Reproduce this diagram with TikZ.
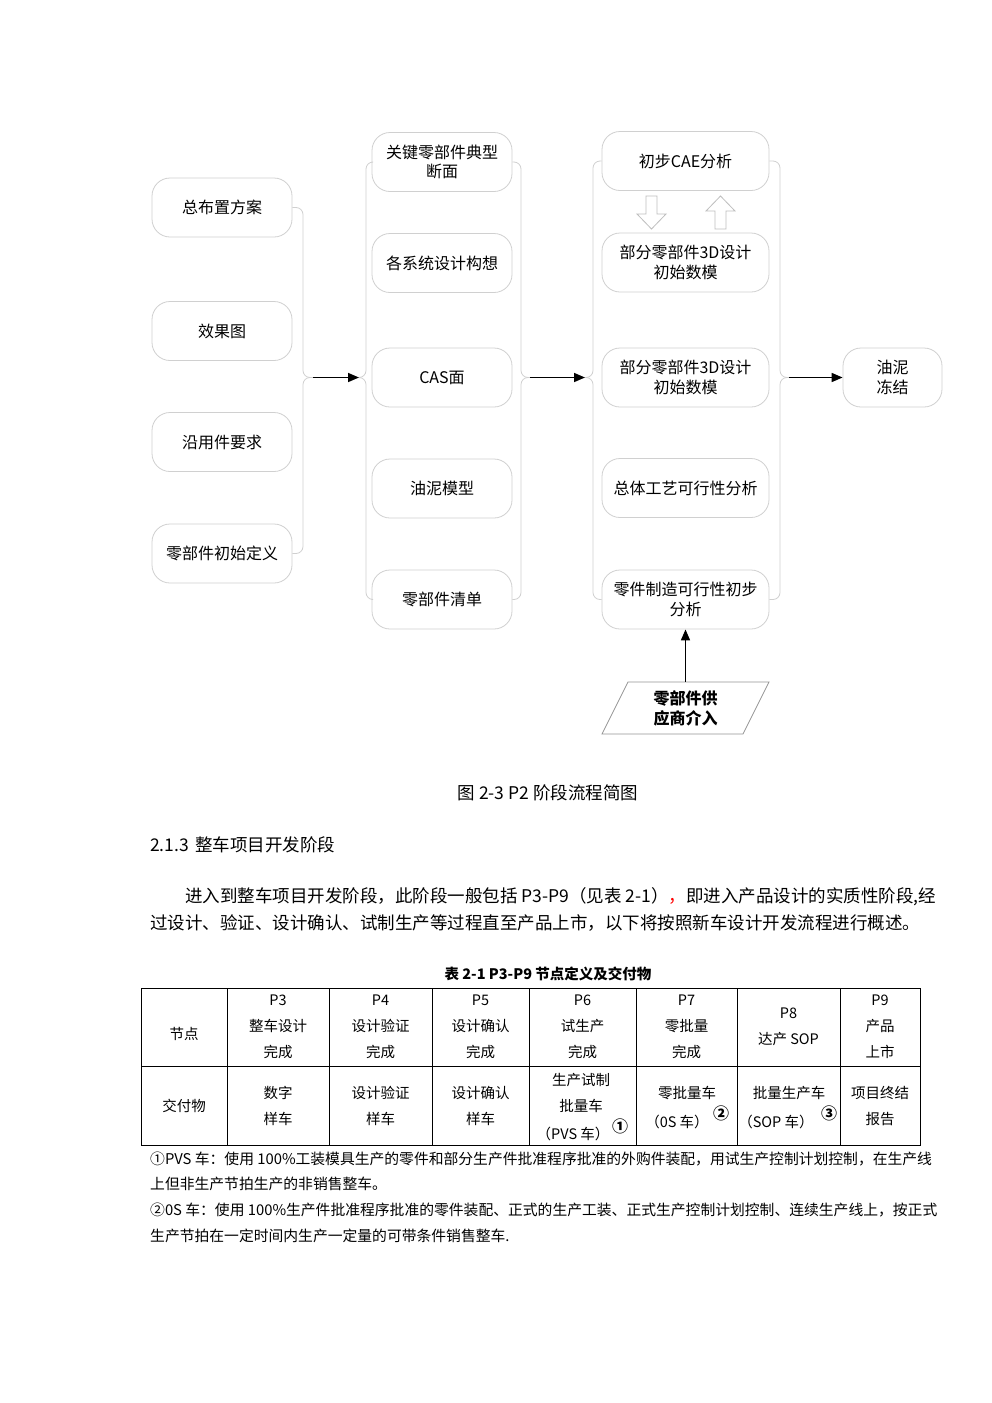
\documentclass[tikz,border=0pt]{standalone}
\usepackage{fontspec}
\setmainfont{Noto Sans CJK SC}
\usetikzlibrary{arrows.meta}
\definecolor{boxgray}{RGB}{208,208,208}
\definecolor{arrgray}{RGB}{190,190,190}
\definecolor{paragray}{RGB}{150,150,150}
\begin{document}
\begin{tikzpicture}[x=1pt,y=-1pt,
  box/.style={draw=boxgray, line width=0.8pt, rounded corners=18pt, minimum width=140pt, minimum height=59pt, align=center, font=\fontsize{16}{19.5}\selectfont, inner sep=2pt},
  wbox/.style={box, minimum width=167pt},
  brace/.style={draw=boxgray, line width=0.8pt, rounded corners=7pt},
  flow/.style={-{Triangle[length=11pt,width=9pt]}, line width=1.6pt},
  hollow/.style={draw=arrgray, line width=0.8pt, fill=white},
  body/.style={font=\fontsize{17.5}{21}\selectfont, inner sep=0pt},
  cell/.style={font=\fontsize{14.5}{26}\selectfont, align=center, inner sep=0pt},
  note/.style={font=\fontsize{14.8}{18}\selectfont, inner sep=0pt, anchor=west},
  circ/.style={font=\fontsize{16}{18}\selectfont\bfseries, inner sep=0pt}]
\fill[white] (0,0) rectangle (992,1403);
\useasboundingbox (0,0) rectangle (992,1403);

% left column
\node[box] (a1) at (222,207.5) {总布置方案};
\node[box] (a2) at (222,331) {效果图};
\node[box] (a3) at (222,442) {沿用件要求};
\node[box] (a4) at (222,553.5) {零部件初始定义};

% middle column
\node[box] (b1) at (442,162) {关键零部件典型\\断面};
\node[box] (b2) at (442,263) {各系统设计构想};
\node[box] (b3) at (442,377.5) {CAS面};
\node[box] (b4) at (442,488.5) {油泥模型};
\node[box] (b5) at (442,599.5) {零部件清单};

% right column
\node[wbox] (c1) at (685.5,161) {初步CAE分析};
\node[wbox] (c2) at (685.5,262.5) {部分零部件3D设计\\初始数模};
\node[wbox] (c3) at (685.5,377.5) {部分零部件3D设计\\初始数模};
\node[wbox] (c4) at (685.5,488) {总体工艺可行性分析};
\node[wbox] (c5) at (685.5,599.5) {零件制造可行性初步\\分析};

\node[box, minimum width=99pt] (d1) at (892.5,377.5) {油泥\\冻结};

% brace tips
\coordinate (t1) at (313,377.5);
\coordinate (t2) at (359,377.5);
\coordinate (t3) at (530,377.5);
\coordinate (t4) at (585,377.5);
\coordinate (t5) at (789,377.5);

% braces
\draw[brace] (a1.east) -- (303,207.5) -- (303,377.5) -- (t1);
\draw[brace] (a4.east) -- (303,553.5) -- (303,377.5) -- (t1);
\draw[brace] (b1.west) -- (366,162) -- (366,377.5) -- (t2);
\draw[brace] (b5.west) -- (366,599.5) -- (366,377.5) -- (t2);
\draw[brace] (b1.east) -- (521,162) -- (521,377.5) -- (t3);
\draw[brace] (b5.east) -- (521,599.5) -- (521,377.5) -- (t3);
\draw[brace] (c1.west) -- (593,161) -- (593,377.5) -- (t4);
\draw[brace] (c5.west) -- (593,599.5) -- (593,377.5) -- (t4);
\draw[brace] (c1.east) -- (780,161) -- (780,377.5) -- (t5);
\draw[brace] (c5.east) -- (780,599.5) -- (780,377.5) -- (t5);

% flow arrows
\draw[flow] (t1) -- (t2);
\draw[flow] (t3) -- (t4);
\draw[flow] (t5) -- (d1.west);

% hollow arrows between c1 and c2
\draw[hollow] (646,196) -- (657,196) -- (657,214) -- (666,214) -- (651.5,229) -- (637,214) -- (646,214) -- cycle;
\draw[hollow] (715,229) -- (726,229) -- (726,211) -- (735,211) -- (720.5,196) -- (706,211) -- (715,211) -- cycle;

% supplier parallelogram
\draw[paragray, line width=0.8pt] (628,682) -- (769,682) -- (743,734) -- (602,734) -- cycle;
\node[minimum width=100pt, minimum height=52pt, inner sep=0pt, align=center, font=\fontsize{16}{20}\selectfont\bfseries] (sup) at (685.5,708) {零部件供\\应商介入};
\draw[flow] (sup.north) -- (c5.south);

% captions and body text
\node[body] (cap) at (548,793) {图 2-3 P2 阶段流程简图};
\node[body, anchor=west] (head) at (150,845) {2.1.3\hspace{6pt}整车项目开发阶段};
\node[body, anchor=west] (p1) at (185,897) {进入到整车项目开发阶段，此阶段一般包括 P3-P9（见表 2-1）\textcolor{red}{，}即进入产品设计的实质性阶段,经};
\node[body, anchor=west] (p2) at (150,923) {过设计、验证、设计确认、试制生产等过程直至产品上市，以下将按照新车设计开发流程进行概述。};

\node[font=\fontsize{14.5}{17}\selectfont\bfseries, inner sep=0pt] (tcap) at (548,974) {表 2-1 P3-P9 节点定义及交付物};

% table
\draw[line width=1pt] (141,988) rectangle (920,1145);
\draw[line width=0.8pt] (141,1066) -- (920,1066);
\foreach \x in {227,329,432,529,636,737,840} \draw[line width=0.8pt] (\x,988) -- (\x,1145);

\node[cell] (h0) at (184,1034) {节点};
\node[cell] (h1) at (278,1027) {P3\\整车设计\\完成};
\node[cell] (h2) at (380.5,1027) {P4\\设计验证\\完成};
\node[cell] (h3) at (480.5,1027) {P5\\设计确认\\完成};
\node[cell] (h4) at (582.5,1027) {P6\\试生产\\完成};
\node[cell] (h5) at (686.5,1027) {P7\\零批量\\完成};
\node[cell] (h6) at (788.5,1027) {P8\\达产 SOP};
\node[cell] (h7) at (880,1027) {P9\\产品\\上市};

\node[cell] (r0) at (184,1106) {交付物};
\node[cell] (r1) at (278,1106) {数字\\样车};
\node[cell] (r2) at (380.5,1106) {设计验证\\样车};
\node[cell] (r3) at (480.5,1106) {设计确认\\样车};
\node[cell] (r4a) at (581,1093) {生产试制\\批量车};
\node[cell] (r4b) at (573,1134) {（PVS 车）};
\node[circ] (n1) at (620,1126) {①};
\node[cell] (r5a) at (687,1093) {零批量车};
\node[cell] (r5b) at (677,1122) {（0S 车）};
\node[circ] (n2) at (721,1113) {②};
\node[cell] (r6a) at (789,1093) {批量生产车};
\node[cell] (r6b) at (776,1122) {（SOP 车）};
\node[circ] (n3) at (829,1113) {③};
\node[cell] (r7) at (880,1106) {项目终结\\报告};

% footnotes
\node[note] (f1) at (150,1159) {①PVS 车：使用 100\%工装模具生产的零件和部分生产件批准程序批准的外购件装配，用试生产控制计划控制，在生产线};
\node[note] (f2) at (150,1184) {上但非生产节拍生产的非销售整车。};
\node[note] (f3) at (150,1210) {②0S 车：使用 100\%生产件批准程序批准的零件装配、正式的生产工装、正式生产控制计划控制、连续生产线上，按正式};
\node[note] (f4) at (150,1236) {生产节拍在一定时间内生产一定量的可带条件销售整车.};
\end{tikzpicture}
\end{document}
